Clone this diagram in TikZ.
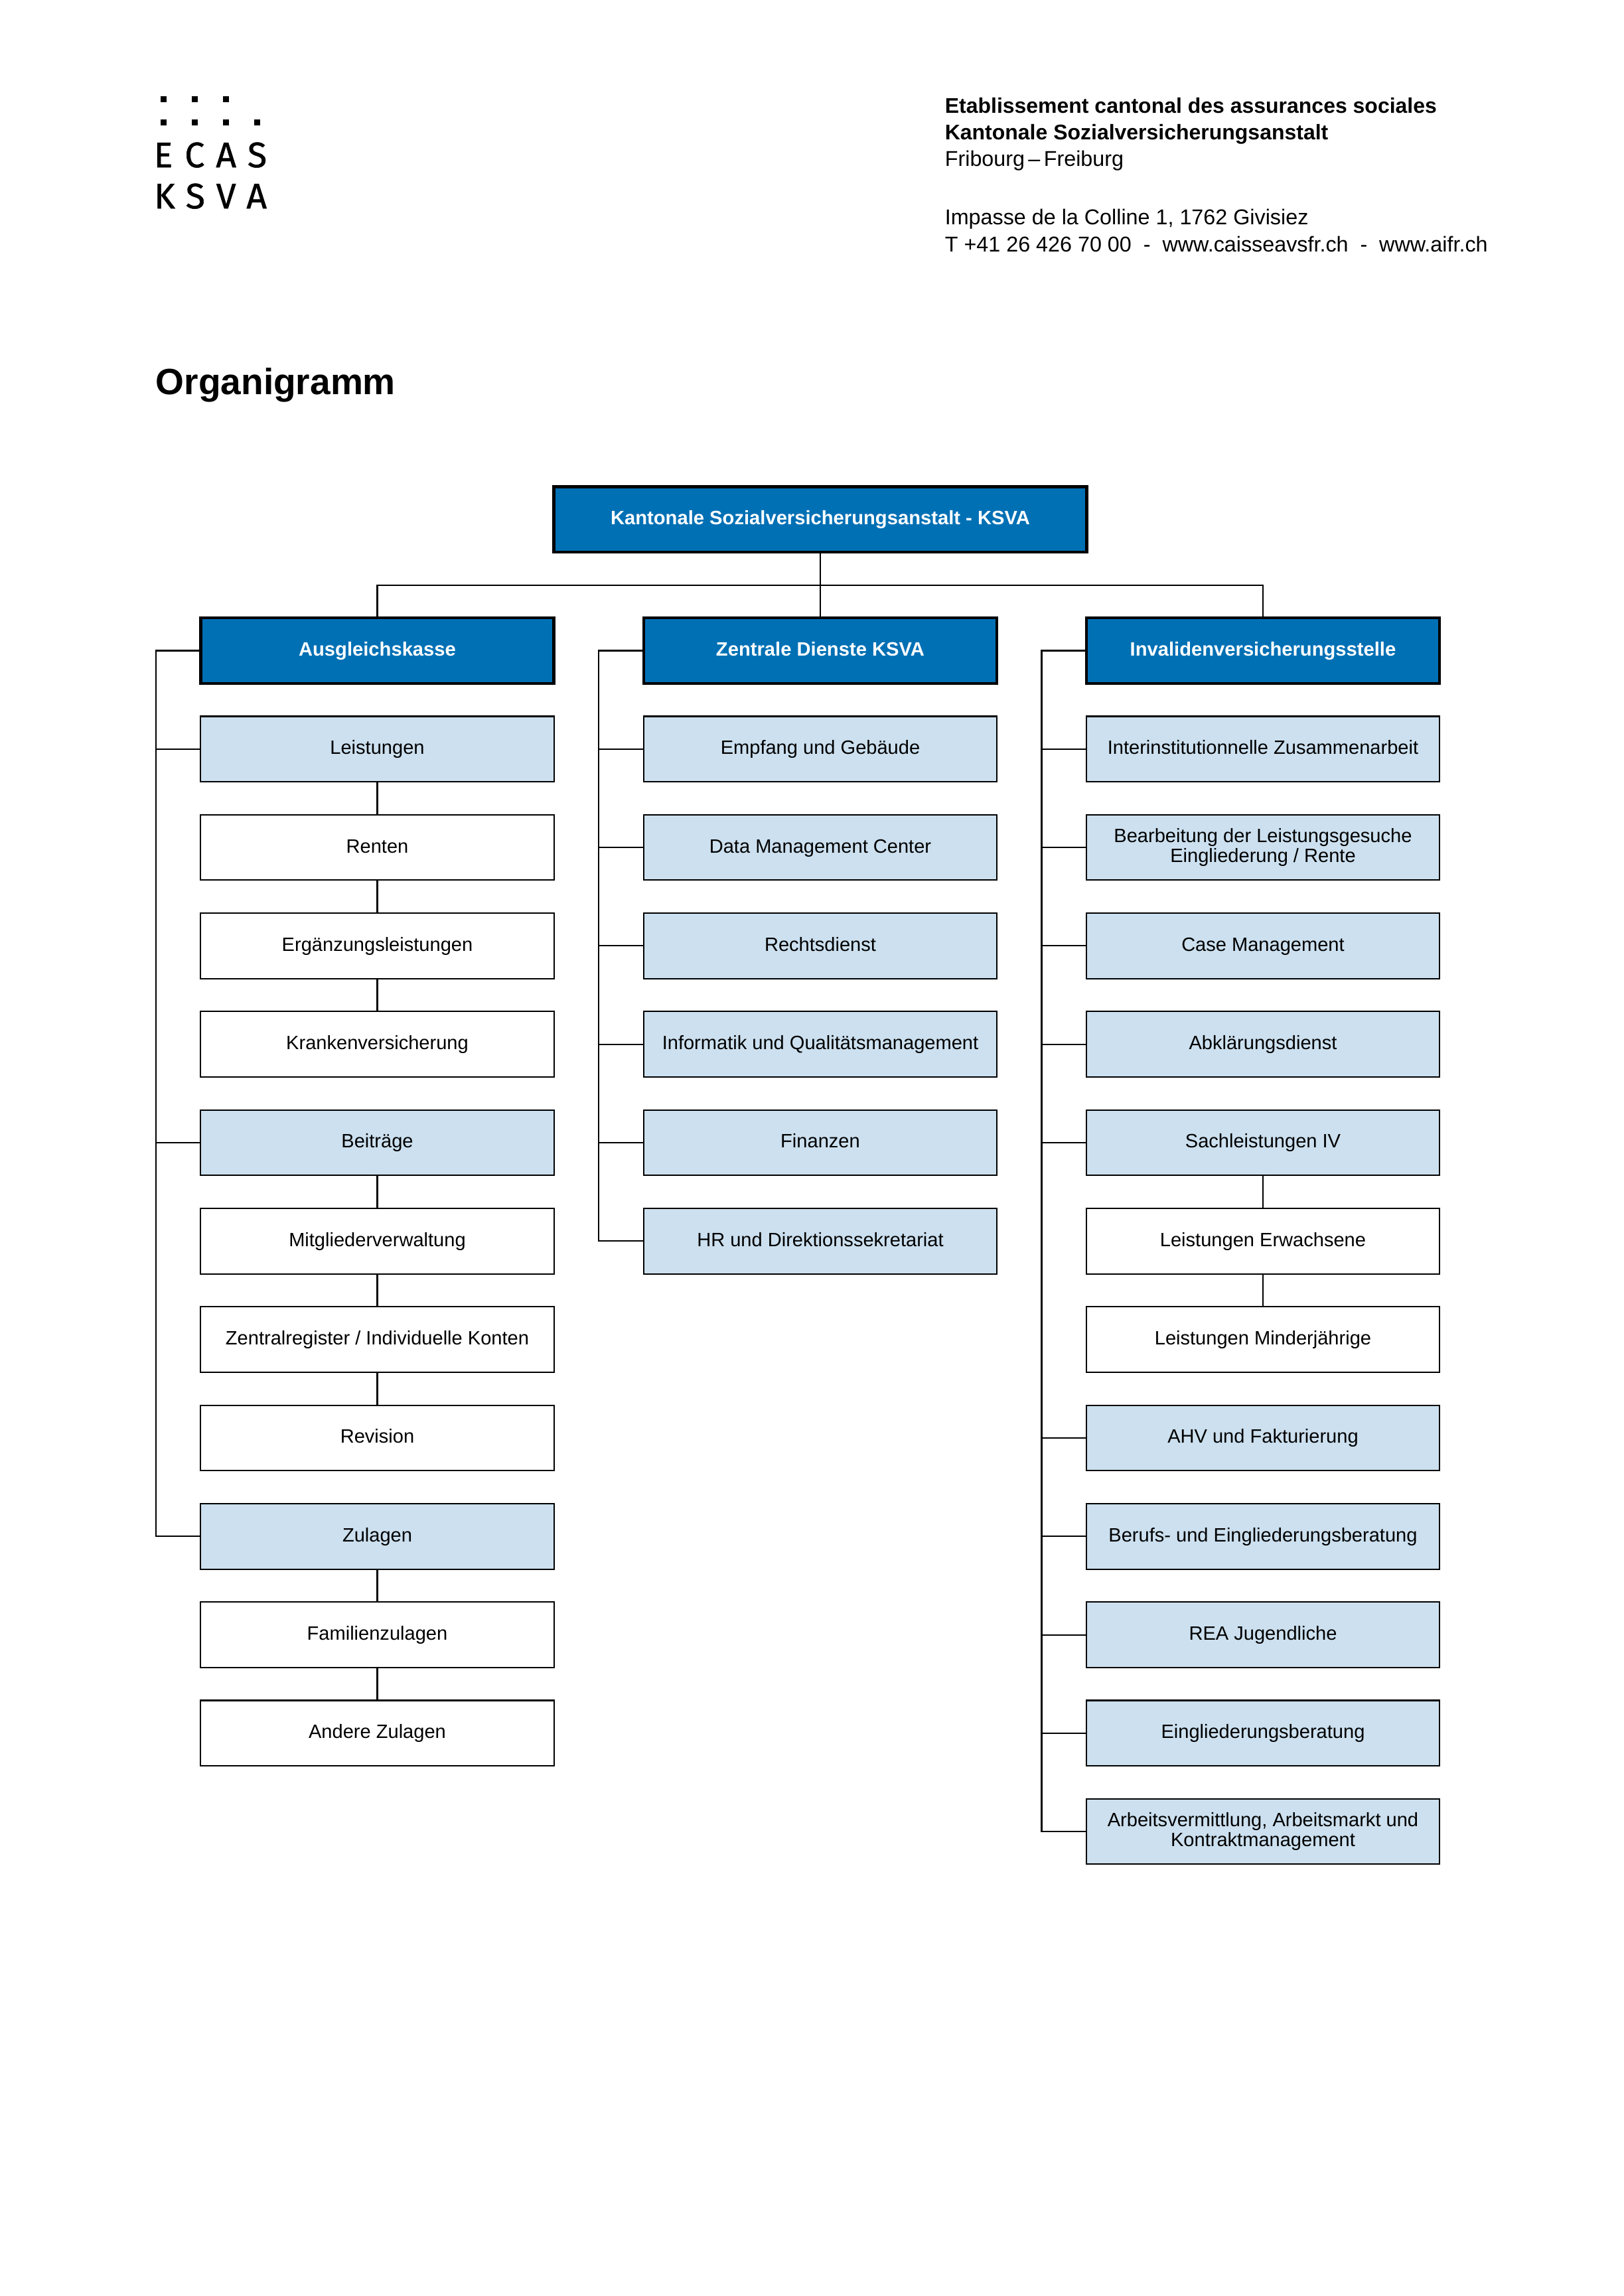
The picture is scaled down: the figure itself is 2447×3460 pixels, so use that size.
\documentclass[tikz,border=0pt]{standalone}
\usepackage{fontspec}
\setmainfont{Liberation Sans}
\newfontfamily\logofont[FakeBold=1]{Fira Sans}
\usepackage{xcolor}
\usetikzlibrary{positioning}

\definecolor{ksvablue}{HTML}{0070B5}
\definecolor{ksvalight}{HTML}{CCE0EF}

\tikzset{
  box/.style={draw=black, line width=0.5pt, inner sep=0pt, outer sep=0pt,
    minimum width=129.5pt, minimum height=24pt, align=center,
    text height=5.2pt, text depth=1.35pt, font=\fontsize{7.07}{7.3}\selectfont},
  leaf/.style={box, fill=white},
  unit/.style={box, fill=ksvalight},
  twolines/.style={text height=, text depth=},
  head/.style={box, fill=ksvablue, text=white, line width=1.05pt,
    font=\fontsize{7.1}{7.3}\selectfont\bfseries},
  link/.style={draw=black, line width=0.5pt},
  letterhead/.style={anchor=base west, inner sep=0pt, font=\fontsize{7.86}{10}\selectfont},
  letterheadbold/.style={letterhead, font=\fontsize{7.78}{10}\selectfont\bfseries},
  logoletter/.style={anchor=base, inner sep=0pt, font=\fontsize{13}{14}\logofont}
}

\begin{document}
\begin{tikzpicture}[x=0.2433pt, y=-0.2433pt]
  \useasboundingbox (0, 0) rectangle (2447, 3460);

  % Logo
  \foreach \xpos in {246.7, 293.7, 340.7} {
    \fill (\xpos-4.5, 144.8) rectangle (\xpos+4.5, 153.8);
  }
  \foreach \xpos in {246.7, 293.7, 340.7, 387.7} {
    \fill (\xpos-4.5, 179.8) rectangle (\xpos+4.5, 188.8);
  }
  \node[logoletter] (logoE) at (246, 252) {E};
  \node[logoletter] (logoC) at (293.3, 252) {C};
  \node[logoletter] (logoA) at (340.7, 252) {A};
  \node[logoletter] (logoS) at (387.5, 252) {S};
  \node[logoletter] (logoK) at (248, 314) {K};
  \node[logoletter] (logoT) at (294.3, 314) {S};
  \node[logoletter] (logoV) at (340.7, 314) {V};
  \node[logoletter] (logoB) at (386.7, 314) {A};

  % Address
  \node[letterheadbold] (addrA) at (1423, 170) {Etablissement cantonal des assurances sociales};
  \node[letterheadbold] (addrB) at (1423, 210.7) {Kantonale Sozialversicherungsanstalt};
  \node[letterhead] (addrC) at (1423, 250.7) {Fribourg\,–\,Freiburg};
  \node[letterhead] (addrD) at (1423, 338) {Impasse de la Colline 1, 1762 Givisiez};
  \node[letterhead] (addrE) at (1423, 379) {T +41 26 426 70 00 ~-~ www.caisseavsfr.ch ~-~ www.aifr.ch};

  % Title
  \node[anchor=base west, inner sep=0pt, font=\fontsize{13.4}{16}\selectfont\bfseries] (title) at (234, 594) {Organigramm};

  % Top
  \node[head, minimum width=195.3pt] (top) at (1236, 782.8) {Kantonale Sozialversicherungsanstalt - KSVA};
  \coordinate (bus) at (1236, 881.7);

  % Column 1
  \node[head] (aus) at (568.5, 980.5) {Ausgleichskasse};
  \node[unit] (lei) at (568.5, 1128.8) {Leistungen};
  \node[leaf] (ren) at (568.5, 1277.1) {Renten};
  \node[leaf] (erg) at (568.5, 1425.4) {Ergänzungsleistungen};
  \node[leaf] (kra) at (568.5, 1573.7) {Krankenversicherung};
  \node[unit] (bei) at (568.5, 1722) {Beiträge};
  \node[leaf] (mit) at (568.5, 1870.3) {Mitgliederverwaltung};
  \node[leaf] (zen) at (568.5, 2018.6) {Zentralregister / Individuelle Konten};
  \node[leaf] (rev) at (568.5, 2166.9) {Revision};
  \node[unit] (zul) at (568.5, 2315.2) {Zulagen};
  \node[leaf] (fam) at (568.5, 2463.5) {Familienzulagen};
  \node[leaf] (and) at (568.5, 2611.8) {Andere Zulagen};

  % Column 2
  \node[head] (zd) at (1236, 980.5) {Zentrale Dienste KSVA};
  \node[unit] (emp) at (1236, 1128.8) {Empfang und Gebäude};
  \node[unit] (dat) at (1236, 1277.1) {Data Management Center};
  \node[unit] (rec) at (1236, 1425.4) {Rechtsdienst};
  \node[unit] (inf) at (1236, 1573.7) {Informatik und Qualitätsmanagement};
  \node[unit] (fin) at (1236, 1722) {Finanzen};
  \node[unit] (hr) at (1236, 1870.3) {HR und Direktionssekretariat};

  % Column 3
  \node[head] (iv) at (1903, 980.5) {Invalidenversicherungsstelle};
  \node[unit] (int) at (1903, 1128.8) {Interinstitutionnelle Zusammenarbeit};
  \node[unit, twolines] (bea) at (1903, 1277.1) {Bearbeitung der Leistungsgesuche\\Eingliederung / Rente};
  \node[unit] (cas) at (1903, 1425.4) {Case Management};
  \node[unit] (abk) at (1903, 1573.7) {Abklärungsdienst};
  \node[unit] (sac) at (1903, 1722) {Sachleistungen IV};
  \node[leaf] (erw) at (1903, 1870.3) {Leistungen Erwachsene};
  \node[leaf] (min) at (1903, 2018.6) {Leistungen Minderjährige};
  \node[unit] (ahv) at (1903, 2166.9) {AHV und Fakturierung};
  \node[unit] (ber) at (1903, 2315.2) {Berufs- und Eingliederungsberatung};
  \node[unit] (rea) at (1903, 2463.5) {REA Jugendliche};
  \node[unit] (ein) at (1903, 2611.8) {Eingliederungsberatung};
  \node[unit, twolines] (arb) at (1903, 2760.1) {Arbeitsvermittlung, Arbeitsmarkt und\\Kontraktmanagement};

  % Top links
  \draw[link] (top.south) -- (bus);
  \draw[link] (bus) -| (aus.north);
  \draw[link] (bus) -| (iv.north);
  \draw[link] (bus) -- (zd.north);

  % Rails
  \coordinate (railA) at (235, 0);
  \coordinate (railB) at (902, 0);
  \coordinate (railC) at (1569.5, 0);
  \draw[link] (aus.west) -- (aus.west -| railA) -- (zul.west -| railA) -- (zul.west);
  \draw[link] (zd.west) -- (zd.west -| railB) -- (hr.west -| railB) -- (hr.west);
  \draw[link] (iv.west) -- (iv.west -| railC) -- (arb.west -| railC) -- (arb.west);

  % Rail branches
  \foreach \name in {lei, bei} {
    \draw[link] (\name.west) -- (\name.west -| railA);
  }
  \foreach \name in {emp, dat, rec, inf, fin} {
    \draw[link] (\name.west) -- (\name.west -| railB);
  }
  \foreach \name in {int, bea, cas, abk, sac, ahv, ber, rea, ein} {
    \draw[link] (\name.west) -- (\name.west -| railC);
  }

  % Chains
  \draw[link] (lei) -- (ren);
  \draw[link] (ren) -- (erg);
  \draw[link] (erg) -- (kra);
  \draw[link] (bei) -- (mit);
  \draw[link] (mit) -- (zen);
  \draw[link] (zen) -- (rev);
  \draw[link] (zul) -- (fam);
  \draw[link] (fam) -- (and);
  \draw[link] (sac) -- (erw);
  \draw[link] (erw) -- (min);
\end{tikzpicture}
\end{document}
